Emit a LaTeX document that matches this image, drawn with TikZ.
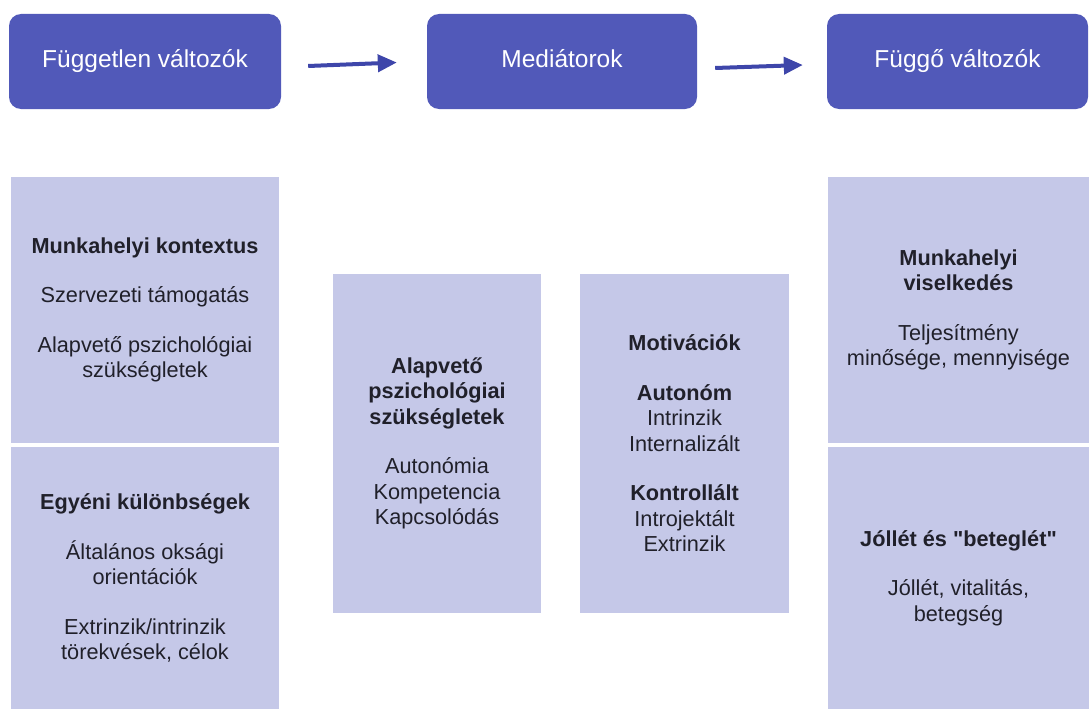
\documentclass[tikz,border=0pt]{standalone}
\usepackage{fontspec}
\setmainfont{Liberation Sans}
\usetikzlibrary{arrows.meta}

\definecolor{headblue}{RGB}{81,89,185}
\definecolor{boxlilac}{RGB}{197,200,232}
\definecolor{arrowblue}{RGB}{62,70,170}
\definecolor{textgray}{RGB}{32,32,42}
\newcommand\pgap{\\[24pt]}
\newcommand\dq{\XeTeXglyph\XeTeXcharglyph"22\relax}

\begin{document}
\begin{tikzpicture}[x=1pt,y=-1pt,
  head/.style={rounded corners=12pt,fill=headblue,text=white,minimum height=95pt,inner sep=0pt,text height=17pt,text depth=5pt,font=\fontsize{24.5}{28}\selectfont},
  panel/.style={fill=boxlilac,text=textgray,align=center,inner sep=0pt,font=\fontsize{21.7}{25.5}\selectfont},
  flow/.style={arrowblue,line width=4pt,-{Triangle[length=19pt,width=17pt]}}]
\useasboundingbox (0,0) rectangle (1089,709);
% fejlec
\node[head,minimum width=272pt] (fv) at (145,61.5) {Független változók};
\node[head,minimum width=270pt] (med) at (562,61.5) {Mediátorok};
\node[head,minimum width=261pt] (ff) at (957.5,61.5) {Függő változók};
\draw[flow] ([xshift=27pt,yshift=-4.5pt]fv.east) -- ([xshift=-30pt,yshift=-1pt]med.west);
\draw[flow] ([xshift=18pt,yshift=-6.5pt]med.east) -- ([xshift=-24pt,yshift=-3.5pt]ff.west);
% dobozok
\node[panel,minimum width=268pt,minimum height=266pt] (kontextus) at (145,310)
  {\textbf{Munkahelyi kontextus}\pgap Szervezeti támogatás\pgap Alapvető pszichológiai\\szükségletek};
\node[panel,minimum width=268pt,minimum height=262pt] (egyeni) at (145,578)
  {\textbf{Egyéni különbségek}\pgap Általános oksági\\orientációk\pgap Extrinzik/intrinzik\\törekvések, célok};
\node[panel,minimum width=208pt,minimum height=339pt] (szukseglet) at (437,443.5)
  {\textbf{Alapvető}\\\textbf{pszichológiai}\\\textbf{szükségletek}\pgap Autonómia\\Kompetencia\\Kapcsolódás};
\node[panel,minimum width=209pt,minimum height=339pt] (motivacio) at (684.5,443.5)
  {\textbf{Motivációk}\pgap\textbf{Autonóm}\\Intrinzik\\Internalizált\pgap\textbf{Kontrollált}\\Introjektált\\Extrinzik};
\node[panel,minimum width=261pt,minimum height=266pt] (viselkedes) at (958.5,310)
  {\textbf{Munkahelyi}\\\textbf{viselkedés}\pgap Teljesítmény\\minősége, mennyisége};
\node[panel,minimum width=261pt,minimum height=262pt] (jollet) at (958.5,578)
  {\textbf{Jóllét és \dq beteglét\dq}\pgap Jóllét, vitalitás,\\betegség};
\end{tikzpicture}
\end{document}
